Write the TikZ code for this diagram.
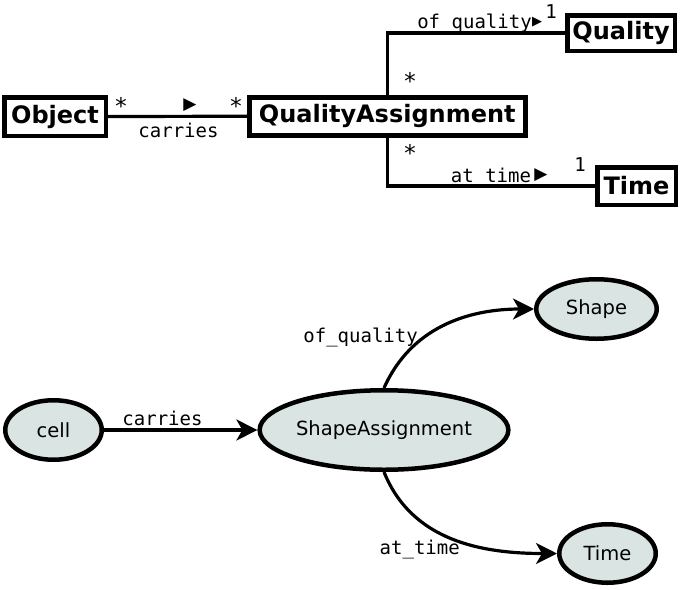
\documentclass[tikz,border=0pt]{standalone}
\usepackage{fontspec}
\setmainfont{DejaVu Sans}
\newfontfamily\monof{DejaVu Sans Mono}
\usetikzlibrary{shapes.geometric,arrows.meta}
\definecolor{nodefill}{RGB}{217,228,227}
\begin{document}
\begin{tikzpicture}[x=1pt,y=-1pt,
  box/.style={draw,line width=4.5pt,inner sep=0pt,font=\fontsize{24}{28}\selectfont\bfseries},
  ell/.style={ellipse,draw,line width=4.5pt,fill=nodefill,inner sep=0pt,font=\fontsize{19.5}{23}\selectfont},
  lab/.style={font=\monof\fontsize{19}{22}\selectfont,inner sep=0pt},
  star/.style={font=\monof\fontsize{23}{26}\selectfont,inner sep=0pt,anchor=north},
  tri/.style={font=\fontsize{17}{20}\selectfont,inner sep=0pt},
  conn/.style={line width=3.2pt},
  arr/.style={line width=3.2pt,-{Stealth[length=21pt,width=21pt,inset=6pt]}}
]
\useasboundingbox (0,0) rectangle (685,589);

% ---------- UML part ----------
\node[box,minimum width=101.5pt,minimum height=38.5pt] (obj) at (55,116.5) {Object};
\node[box,minimum width=276pt,minimum height=38pt] (qa) at (387.25,116.25) {QualityAssignment};
\node[box,minimum width=107.5pt,minimum height=35.5pt] (quality) at (621,33) {Quality};
\node[box,minimum width=78.5pt,minimum height=37.5pt] (time) at (636.5,186) {Time};

\draw[conn] (obj.east) -- (qa.west);
\draw[conn] (qa.north) |- (quality.west);
\draw[conn] (qa.south) |- (time.west);

\node[lab,anchor=base] (lcarries) at (178.5,137) {carries};
\node[tri] (t1) at (190,105) {▶};
\node[star] (s1) at (121,97) {*};
\node[star] (s2) at (236,97) {*};

\node[lab,anchor=base] (lofq) at (474.5,28) {of quality};
\node[tri,font=\fontsize{13}{15}\selectfont] (t2) at (537,22) {▶};
\node[lab,anchor=north] (one1) at (551,4) {1};
\node[star] (s3) at (410,72) {*};

\node[lab,anchor=base] (lat) at (491,182) {at time};
\node[tri] (t3) at (541,175) {▶};
\node[lab,anchor=north] (one2) at (580,157) {1};
\node[star] (s4) at (410,144) {*};

% ---------- graph part ----------
\node[ell,minimum width=96.5pt,minimum height=59.5pt] (cell) at (53.5,430) {cell};
\node[ell,minimum width=247.5pt,minimum height=79.5pt] (sa) at (384,430) {ShapeAssignment};
\node[ell,minimum width=120.5pt,minimum height=59.5pt] (shape) at (596.5,309) {Shape};
\node[ell,minimum width=96.5pt,minimum height=58.5pt] (timeE) at (607.5,553.5) {Time};

\draw[arr] (cell.east) -- (sa.west);
\draw[arr] (sa.north) to[out=66,in=180] (shape.west);
\draw[arr] (sa.south) to[out=-68,in=180] (timeE.west);

\node[lab,anchor=base] (lc2) at (162.5,425) {carries};
\node[lab,anchor=base east] (lq2) at (418,342) {of\_quality};
\node[lab,anchor=base east] (lt2) at (460,554) {at\_time};
\end{tikzpicture}
\end{document}
